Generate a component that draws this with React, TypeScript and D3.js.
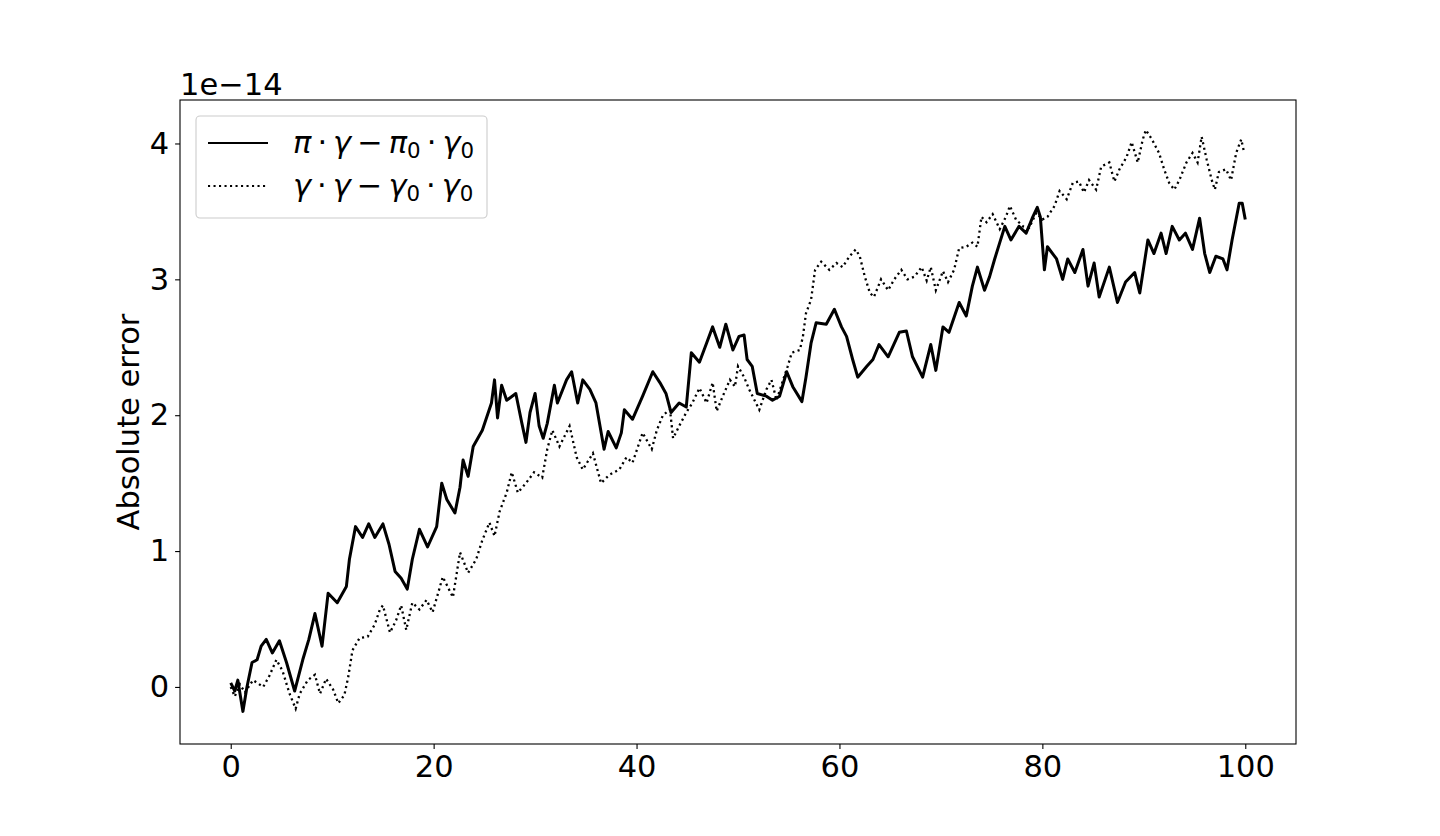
import * as d3 from 'd3';
import { useEffect, useRef } from 'react';

// time values (x) and absolute error in units of 1e-14 (y)
const solidT = [0, 0.4, 0.7, 1.2, 1.6, 2.1, 2.6, 3.0, 3.5, 4.1, 4.8, 5.5, 6.3, 7.1, 7.7, 8.3, 9.0, 9.6, 10.5, 11.4, 11.7, 12.3, 13.0, 13.6, 14.2, 15.0, 15.6, 16.2, 16.8, 17.4, 17.9, 18.6, 19.4, 20.3, 20.8, 21.3, 22.1, 22.6, 22.9, 23.4, 23.9, 24.8, 25.7, 26.0, 26.3, 26.7, 27.2, 28.1, 28.7, 29.1, 29.5, 30.0, 30.4, 30.8, 31.2, 31.9, 32.2, 33.1, 33.6, 34.2, 34.7, 35.4, 36.0, 36.8, 37.2, 38.0, 38.5, 38.8, 39.6, 40.6, 41.6, 42.3, 42.9, 43.4, 44.2, 44.9, 45.4, 46.2, 46.9, 47.5, 48.2, 48.8, 49.5, 50.1, 50.6, 50.9, 51.4, 51.9, 52.8, 53.4, 54.1, 54.8, 55.4, 56.3, 56.7, 57.2, 57.7, 58.7, 59.5, 60.2, 60.7, 61.3, 61.8, 62.7, 63.3, 63.9, 64.8, 65.9, 66.6, 67.2, 68.2, 69.0, 69.5, 70.2, 70.8, 71.8, 72.5, 73.1, 73.6, 74.3, 74.8, 75.3, 75.8, 76.3, 76.9, 77.7, 78.4, 79.0, 79.5, 79.8, 80.2, 80.5, 81.4, 82.0, 82.5, 83.2, 84.0, 84.5, 85.1, 85.6, 86.6, 87.4, 88.2, 89.1, 89.6, 90.4, 91.0, 91.7, 92.2, 92.8, 93.5, 94.1, 94.8, 95.5, 96.0, 96.5, 97.1, 97.8, 98.2, 98.7, 99.4, 99.7, 100];
const solidErr = [0.03, -0.03, 0.05, -0.18, 0.0, 0.18, 0.2, 0.3, 0.35, 0.25, 0.34, 0.18, -0.03, 0.2, 0.35, 0.54, 0.3, 0.69, 0.62, 0.74, 0.94, 1.18, 1.1, 1.2, 1.1, 1.2, 1.05, 0.85, 0.8, 0.72, 0.94, 1.16, 1.03, 1.18, 1.5, 1.38, 1.28, 1.47, 1.67, 1.55, 1.77, 1.89, 2.09, 2.26, 1.98, 2.22, 2.11, 2.16, 1.94, 1.8, 2.02, 2.16, 1.92, 1.83, 1.94, 2.22, 2.09, 2.26, 2.32, 2.09, 2.26, 2.19, 2.09, 1.75, 1.88, 1.76, 1.87, 2.04, 1.97, 2.14, 2.32, 2.24, 2.16, 2.02, 2.09, 2.06, 2.46, 2.39, 2.53, 2.65, 2.5, 2.67, 2.48, 2.58, 2.59, 2.41, 2.36, 2.16, 2.14, 2.11, 2.14, 2.32, 2.21, 2.1, 2.28, 2.53, 2.68, 2.67, 2.78, 2.65, 2.58, 2.41, 2.28, 2.36, 2.41, 2.52, 2.43, 2.61, 2.62, 2.43, 2.28, 2.52, 2.33, 2.65, 2.61, 2.83, 2.73, 2.95, 3.09, 2.92, 3.02, 3.15, 3.27, 3.39, 3.29, 3.39, 3.34, 3.45, 3.53, 3.46, 3.07, 3.24, 3.15, 3.0, 3.15, 3.05, 3.22, 2.95, 3.12, 2.87, 3.09, 2.83, 2.98, 3.05, 2.9, 3.29, 3.19, 3.34, 3.19, 3.39, 3.29, 3.34, 3.22, 3.45, 3.19, 3.05, 3.17, 3.15, 3.07, 3.29, 3.56, 3.56, 3.44];

const dottedT = [0, 0.4, 0.9, 1.4, 2.2, 3.2, 3.8, 4.5, 5.1, 5.8, 6.4, 6.8, 7.6, 8.3, 8.8, 9.4, 10.1, 10.6, 11.2, 11.6, 12.0, 12.7, 13.5, 14.2, 14.7, 15.0, 15.7, 16.3, 16.8, 17.3, 17.9, 18.6, 19.3, 19.9, 20.9, 21.9, 22.6, 23.4, 24.2, 24.8, 25.5, 26.0, 26.5, 27.2, 27.7, 28.3, 29.1, 29.9, 30.7, 31.2, 31.7, 32.4, 33.4, 34.1, 34.7, 35.7, 36.5, 37.3, 38.3, 39.0, 39.6, 40.6, 41.5, 42.0, 42.6, 43.3, 43.6, 44.2, 44.9, 45.5, 46.2, 46.9, 47.5, 47.9, 48.5, 49.2, 49.7, 50.0, 50.6, 51.1, 52.1, 52.8, 53.3, 53.8, 54.4, 54.9, 55.3, 56.1, 56.4, 56.7, 57.2, 57.6, 58.2, 59.0, 59.7, 60.3, 61.0, 61.6, 62.0, 62.5, 63.0, 63.4, 64.1, 64.8, 65.4, 66.1, 66.7, 67.4, 68.1, 68.6, 69.0, 69.5, 70.2, 70.7, 71.3, 71.8, 72.5, 73.1, 73.6, 74.0, 74.5, 75.1, 75.8, 76.4, 76.8, 77.4, 78.1, 78.7, 79.4, 80.0, 80.5, 81.2, 81.7, 82.4, 83.0, 83.6, 84.1, 84.6, 85.3, 85.8, 86.6, 87.1, 87.6, 88.3, 88.8, 89.4, 89.9, 90.2, 90.8, 91.5, 92.0, 92.5, 93.0, 93.5, 94.2, 94.8, 95.3, 95.7, 96.2, 96.7, 97.0, 97.4, 98.1, 98.6, 99.1, 99.6, 99.9];
const dottedErr = [0.0, -0.07, 0.02, -0.04, 0.05, 0.0, 0.08, 0.2, 0.12, -0.05, -0.16, -0.05, 0.05, 0.09, -0.05, 0.06, -0.02, -0.12, -0.06, 0.08, 0.27, 0.36, 0.37, 0.46, 0.57, 0.6, 0.4, 0.49, 0.6, 0.42, 0.62, 0.57, 0.64, 0.55, 0.81, 0.66, 0.99, 0.84, 0.94, 1.08, 1.21, 1.11, 1.29, 1.43, 1.58, 1.43, 1.5, 1.58, 1.54, 1.75, 1.89, 1.77, 1.92, 1.69, 1.6, 1.72, 1.5, 1.56, 1.6, 1.69, 1.65, 1.87, 1.75, 1.89, 2.0, 2.04, 1.83, 1.92, 2.02, 2.09, 2.2, 2.09, 2.24, 2.03, 2.14, 2.26, 2.21, 2.36, 2.28, 2.19, 2.04, 2.19, 2.26, 2.11, 2.25, 2.36, 2.46, 2.48, 2.58, 2.75, 2.85, 3.07, 3.13, 3.07, 3.12, 3.09, 3.17, 3.22, 3.17, 3.02, 2.9, 2.87, 3.0, 2.92, 3.0, 3.07, 3.0, 3.02, 3.09, 2.99, 3.09, 2.92, 3.06, 2.98, 3.07, 3.23, 3.24, 3.27, 3.24, 3.46, 3.42, 3.48, 3.37, 3.46, 3.54, 3.44, 3.39, 3.38, 3.49, 3.44, 3.46, 3.54, 3.65, 3.59, 3.71, 3.72, 3.64, 3.73, 3.66, 3.83, 3.86, 3.72, 3.81, 3.9, 4.01, 3.86, 4.03, 4.1, 4.03, 3.93, 3.81, 3.71, 3.66, 3.73, 3.86, 3.93, 3.86, 4.05, 3.88, 3.73, 3.66, 3.79, 3.81, 3.73, 3.93, 4.03, 3.93];

const xTicks = [0, 20, 40, 60, 80, 100];
const yTicks = [0, 1, 2, 3, 4];
const legendLabels = [
  { a: 'π', b: 'π' },
  { a: 'γ', b: 'γ' },
];

const W = 1440;
const H = 836;
const margin = { top: 100, left: 180, right: 144, bottom: 92 };
const FONT = '"DejaVu Sans", sans-serif';
const FS = 30.5;

const App = () => {
  const ref = useRef<SVGSVGElement>(null);

  useEffect(() => {
    const svg = d3.select(ref.current);
    svg.selectAll('*').remove();

    const plotW = W - margin.left - margin.right;
    const plotH = H - margin.top - margin.bottom;

    const x = d3.scaleLinear().domain([-5, 105]).range([margin.left, margin.left + plotW]);
    const y = d3.scaleLinear().domain([-0.42, 4.32]).range([margin.top + plotH, margin.top]);

    const path = d3.line();
    const solid = solidT.map((t, i) => [x(t), y(solidErr[i])] as [number, number]);
    const dotted = dottedT.map((t, i) => [x(t), y(dottedErr[i])] as [number, number]);

    svg
      .append('path')
      .attr('d', path(solid))
      .attr('fill', 'none')
      .attr('stroke', '#000')
      .attr('stroke-width', 3)
      .attr('stroke-linejoin', 'round');

    svg
      .append('path')
      .attr('d', path(dotted))
      .attr('fill', 'none')
      .attr('stroke', '#000')
      .attr('stroke-width', 2.3)
      .attr('stroke-dasharray', '2.1 3.4');

    // frame
    svg
      .append('rect')
      .attr('x', margin.left)
      .attr('y', margin.top)
      .attr('width', plotW)
      .attr('height', plotH)
      .attr('fill', 'none')
      .attr('stroke', '#000')
      .attr('stroke-width', 1.1);

    const xAxis = svg
      .append('g')
      .attr('transform', `translate(0, ${margin.top + plotH})`)
      .call(d3.axisBottom(x).tickValues(xTicks).tickSize(4.9).tickPadding(6).tickFormat(d3.format('d')));
    const yAxis = svg
      .append('g')
      .attr('transform', `translate(${margin.left}, 0)`)
      .call(d3.axisLeft(y).tickValues(yTicks).tickSize(4.9).tickPadding(6).tickFormat(d3.format('d')));

    [xAxis, yAxis].forEach((g) => {
      g.select('.domain').remove();
      g.selectAll('line').attr('stroke', '#000').attr('stroke-width', 1.1);
      g.selectAll('text')
        .attr('fill', '#000')
        .style('font-family', FONT)
        .style('font-size', `${FS}px`);
    });

    svg
      .append('text')
      .attr('x', margin.left)
      .attr('y', 95)
      .style('font-family', FONT)
      .style('font-size', `${FS}px`)
      .text('1e\u221214');

    svg
      .append('text')
      .attr('transform', `translate(139, ${margin.top + plotH / 2}) rotate(-90)`)
      .attr('text-anchor', 'middle')
      .style('font-family', FONT)
      .style('font-size', `${FS}px`)
      .text('Absolute error');

    // legend
    const lg = svg.append('g');
    lg.append('rect')
      .attr('x', 196)
      .attr('y', 116)
      .attr('width', 291)
      .attr('height', 102)
      .attr('rx', 4)
      .attr('fill', 'rgba(255,255,255,0.8)')
      .attr('stroke', '#cccccc')
      .attr('stroke-width', 1.1);

    legendLabels.forEach((lab, i) => {
      const yy = 143 + i * 43;
      const l = lg
        .append('line')
        .attr('x1', 208)
        .attr('x2', 268)
        .attr('y1', yy)
        .attr('y2', yy)
        .attr('stroke', '#000')
        .attr('stroke-width', 2.1);
      if (i === 1) l.attr('stroke-dasharray', '2.1 3.4');

      const t = lg
        .append('text')
        .attr('x', 293)
        .attr('y', yy + 10)
        .style('font-family', FONT)
        .style('font-size', `${FS}px`);
      const gap = 6;
      t.append('tspan').style('font-style', 'italic').text(lab.a);
      t.append('tspan').attr('dx', gap).text('\u00b7');
      t.append('tspan').attr('dx', gap).style('font-style', 'italic').text('γ');
      t.append('tspan').attr('dx', gap).text('\u2212');
      t.append('tspan').attr('dx', gap).style('font-style', 'italic').text(lab.b);
      t.append('tspan').attr('dy', 5).style('font-size', `${FS * 0.7}px`).text('0');
      t.append('tspan').attr('dx', gap).attr('dy', -5).text('\u00b7');
      t.append('tspan').attr('dx', gap).style('font-style', 'italic').text('γ');
      t.append('tspan').attr('dy', 5).style('font-size', `${FS * 0.7}px`).text('0');
    });
  }, []);

  return <svg ref={ref} width={W} height={H} style={{ display: 'block', margin: '-8px' }} />;
};

export default App;
